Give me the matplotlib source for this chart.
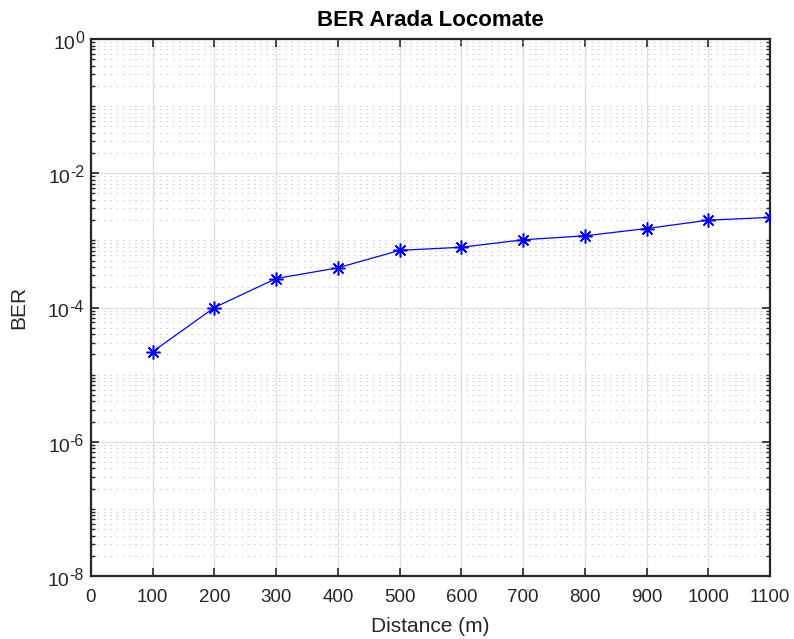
import numpy as np
import matplotlib
matplotlib.use("Agg")
import matplotlib.pyplot as plt
from matplotlib.ticker import FixedLocator, NullFormatter

plt.rcParams['font.family'] = ['Liberation Sans', 'DejaVu Sans']

# Measured bit error rate of the Arada LocoMate link versus distance
distance_m = [100, 200, 300, 400, 500, 600, 700, 800, 900, 1000, 1100]
ber = [2.2e-5, 1.0e-4, 2.7e-4, 3.9e-4, 7.1e-4, 7.9e-4, 1.02e-3, 1.17e-3, 1.5e-3, 2.0e-3, 2.2e-3]

x_ticks = list(range(0, 1101, 100))
y_exponents = [0, -2, -4, -6, -8]

W, H = 794, 639
fig = plt.figure(figsize=(W / 100, H / 100), dpi=100)
ax = fig.add_axes([91 / W, 1 - 576 / H, (770 - 91) / W, (576 - 39) / H])

ax.plot(distance_m, ber, color=(0, 0, 1), linewidth=0.9,
        marker=(8, 2, 0), markersize=10, markeredgewidth=1.1, zorder=3)

ax.set_yscale('log')
ax.set_xlim(0, 1100)
ax.set_ylim(1e-8, 1e0)
ax.set_xticks(x_ticks)
y_major = [10.0 ** e for e in y_exponents]
ax.set_yticks(y_major)
ax.set_yticklabels([''] * len(y_major))
minor = [k * 10.0 ** e for e in range(-8, 0) for k in range(1, 10)]
minor = [v for v in minor if not any(abs(v - m) / m < 1e-9 for m in y_major)]
ax.yaxis.set_minor_locator(FixedLocator(minor))
ax.yaxis.set_minor_formatter(NullFormatter())

ax.grid(True, which='major', color='#dedede', linestyle='-', linewidth=0.9)
ax.grid(True, which='minor', axis='y', color='#cfcfcf',
        linestyle=(0, (1.5, 4.5)), linewidth=0.75)
ax.set_axisbelow(True)

for s in ax.spines.values():
    s.set_color('#262626')
    s.set_linewidth(1.6)

ax.tick_params(which='both', direction='in', top=True, right=True,
               colors='#262626', labelcolor='#262626')
ax.tick_params(which='major', length=6, width=1.2)
ax.tick_params(which='minor', length=3, width=1.0)
ax.tick_params(axis='x', pad=9.5, labelsize=13.5)

ax.set_xlabel('Distance (m)', fontsize=15, color='#262626')
ax.xaxis.set_label_coords(0.5, (576 - 617) / 537)
ax.set_ylabel('BER', fontsize=15, color='#262626', va='center')
ax.yaxis.set_label_coords((19 - 91) / 679, 0.5)
ax.set_title('BER Arada Locomate', fontsize=16, fontweight='bold', color='black', pad=9)

# y tick labels as "10" with a raised exponent
fig.canvas.draw()
renderer = fig.canvas.get_renderer()
right_px = 84
for e in y_exponents:
    ty = ax.transData.transform((1, 10.0 ** e))[1]  # display y, origin at bottom
    sup = fig.text(right_px / W, (ty - 4) / H, f'{e}', ha='right', va='baseline',
                   fontsize=11.5, color='#262626')
    sw = sup.get_window_extent(renderer).width
    fig.text((right_px - sw) / W, (ty - 10) / H, '10', ha='right', va='baseline',
             fontsize=14, color='#262626')

fig.savefig('out.png', dpi=100)
